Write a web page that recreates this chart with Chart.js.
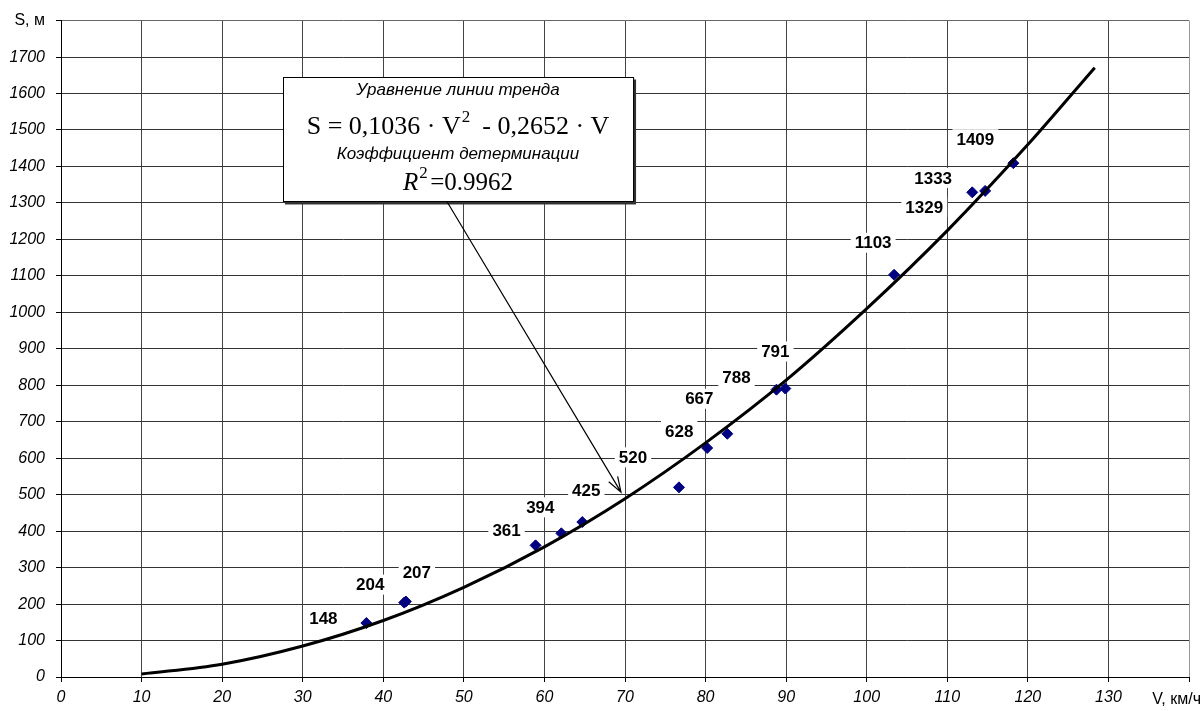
<!DOCTYPE html>
<html>
<head>
<meta charset="utf-8">
<script src="https://cdn.jsdelivr.net/npm/chart.js@4"></script>
<style>
  html, body { margin: 0; padding: 0; background: #fff; }
  #chart { display: block; }
</style>
</head>
<body>
<canvas id="chart" width="1203" height="711"></canvas>
<script>
// measured points (speed V, km/h -> stopping distance S, m)
const speedV = [37.9, 42.6, 42.8, 58.9, 62.1, 64.7, 76.7, 80.2, 82.7, 88.8, 89.9, 103.4, 113.1, 114.7, 118.2];
const distS = [148, 204, 207, 361, 394, 425, 520, 628, 667, 788, 791, 1103, 1329, 1333, 1409];

// trend line
const trendV = [10, 20, 30, 40, 50, 60, 70, 80, 90, 100, 110, 120, 128.3];
const trendS = [8, 35, 85, 155, 246, 357, 489, 642, 814, 1010, 1224, 1460, 1671];

const xTicks = [0, 10, 20, 30, 40, 50, 60, 70, 80, 90, 100, 110, 120, 130, 140];
const xTitle = 'V, км/ч';
const yTitle = 'S, м';

const boxLines = ['Уравнение линии тренда', 'Коэффициент детерминации'];
const eqText = 'S = 0,1036 · V';
const eqText2 = '  - 0,2652 · V';
const r2Text = '0.9962';

// label offsets (px) from each point, in the same order as distS
const labelOffsets = [[-43, -5], [-34, -18], [11, -29], [-29, -15], [-21, -26], [4, -32], [-46, -30],
  [-28, -17], [-28, -35], [-40, -12], [-10, -37], [-21, -32], [-48, 15], [-52, -13], [-38, -24]];

const SANS = "'Liberation Sans', Arial, sans-serif";
const SERIF = "'Liberation Serif', 'Times New Roman', serif";

const extras = {
  id: 'extras',
  afterDatasetsDraw(chart) {
    const ctx = chart.ctx;
    const xs = chart.scales.x, ys = chart.scales.y;
    ctx.save();

    // point value labels with white background
    ctx.font = 'bold 17px ' + SANS;
    ctx.textAlign = 'center';
    ctx.textBaseline = 'middle';
    distS.forEach((s, i) => {
      const px = xs.getPixelForValue(speedV[i]) + labelOffsets[i][0];
      const py = ys.getPixelForValue(s) + labelOffsets[i][1];
      const txt = String(s);
      const w = ctx.measureText(txt).width;
      ctx.fillStyle = '#fff';
      ctx.fillRect(px - w / 2 - 4, py - 10, w + 8, 20);
      ctx.fillStyle = '#000';
      ctx.fillText(txt, px, py + 1);
    });

    // annotation box
    const bx1 = xs.getPixelForValue(27.55), bx2 = xs.getPixelForValue(71.0);
    const by1 = ys.getPixelForValue(1644), by2 = ys.getPixelForValue(1304);
    ctx.fillStyle = '#333';
    ctx.fillRect(bx1 + 2, by1 + 2, bx2 - bx1 + 1, by2 - by1 + 1);
    ctx.fillStyle = '#fff';
    ctx.fillRect(bx1, by1, bx2 - bx1, by2 - by1);
    ctx.strokeStyle = '#000';
    ctx.lineWidth = 1;
    ctx.strokeRect(Math.round(bx1) + 0.5, Math.round(by1) + 0.5, bx2 - bx1, by2 - by1);

    const cx = (bx1 + bx2) / 2;
    ctx.fillStyle = '#000';
    ctx.textAlign = 'center';
    ctx.font = 'italic 17px ' + SANS;
    ctx.fillText(boxLines[0], cx, by1 + 13);
    ctx.fillText(boxLines[1], cx, by1 + 77);

    // equation line
    ctx.font = '26px ' + SERIF;
    ctx.textAlign = 'left';
    const supFont = '17px ' + SERIF;
    const w1 = ctx.measureText(eqText).width;
    const w3 = ctx.measureText(eqText2).width;
    ctx.font = supFont;
    const w2 = ctx.measureText('2').width;
    let x0 = cx - (w1 + w2 + w3) / 2;
    const ey = by1 + 50;
    ctx.font = '26px ' + SERIF;
    ctx.fillText(eqText, x0, ey);
    ctx.font = supFont;
    ctx.fillText('2', x0 + w1 + 1, ey - 10);
    ctx.font = '26px ' + SERIF;
    ctx.fillText(eqText2, x0 + w1 + w2, ey);

    // R^2 line
    const ry = by1 + 106;
    ctx.font = 'italic 25px ' + SERIF;
    const wr = ctx.measureText('R').width;
    ctx.font = '25px ' + SERIF;
    const wv = ctx.measureText('=' + r2Text).width;
    x0 = cx - (wr + 12 + wv) / 2;
    ctx.font = 'italic 25px ' + SERIF;
    ctx.fillText('R', x0, ry);
    ctx.font = supFont;
    ctx.fillText('2', x0 + wr + 1, ry - 10);
    ctx.font = '25px ' + SERIF;
    ctx.fillText('=' + r2Text, x0 + wr + 12, ry);

    // arrow from box to trend line
    const ax1 = xs.getPixelForValue(47.9), ay1 = by2;
    const ax2 = xs.getPixelForValue(69.5), ay2 = ys.getPixelForValue(507);
    ctx.strokeStyle = '#000';
    ctx.lineWidth = 1.2;
    ctx.beginPath();
    ctx.moveTo(ax1, ay1);
    ctx.lineTo(ax2, ay2);
    const ang = Math.atan2(ay2 - ay1, ax2 - ax1);
    const hl = 16, ha = 0.33;
    ctx.moveTo(ax2 - hl * Math.cos(ang - ha), ay2 - hl * Math.sin(ang - ha));
    ctx.lineTo(ax2, ay2);
    ctx.lineTo(ax2 - hl * Math.cos(ang + ha), ay2 - hl * Math.sin(ang + ha));
    ctx.stroke();

    // x axis title in place of the last tick label
    ctx.font = '16px ' + SANS;
    ctx.textAlign = 'right';
    ctx.textBaseline = 'middle';
    ctx.fillStyle = '#000';
    ctx.fillText(xTitle, 1201, ys.bottom + 23);
    ctx.restore();
  }
};

new Chart(document.getElementById('chart'), {
  type: 'scatter',
  data: {
    datasets: [
      {
        label: 'trend',
        data: trendV.map((v, i) => ({ x: v, y: trendS[i] })),
        showLine: true,
        borderColor: '#000',
        borderWidth: 3,
        pointRadius: 0,
        cubicInterpolationMode: 'monotone',
        order: 0
      },
      {
        label: 'S',
        data: speedV.map((v, i) => ({ x: v, y: distS[i] })),
        pointStyle: 'rectRot',
        pointRadius: 5.5,
        backgroundColor: '#000080',
        borderColor: '#000080',
        borderWidth: 1,
        order: 1
      }
    ]
  },
  options: {
    responsive: false,
    animation: false,
    layout: { padding: { top: 20, right: 14, left: 0, bottom: 0 } },
    plugins: { legend: { display: false }, tooltip: { enabled: false } },
    scales: {
      x: {
        type: 'linear',
        min: 0,
        max: 140,
        afterBuildTicks: s => { s.ticks = xTicks.map(v => ({ value: v })); },
        afterFit: s => { s.height = 34; },
        border: { color: '#000', width: 1 },
        grid: {
          color: c => (c.tick && c.tick.value === 140 ? '#999' : '#444'),
          tickLength: 5,
          tickColor: '#000'
        },
        ticks: {
          color: '#000',
          padding: 6,
          maxRotation: 0,
          font: { family: SANS, size: 16, style: 'italic' },
          callback: v => (v === 140 ? '' : String(v))
        }
      },
      y: {
        type: 'linear',
        min: 0,
        max: 1800,
        afterFit: s => { s.width = 61; },
        border: { color: '#000', width: 1 },
        grid: {
          color: c => (c.tick && c.tick.value === 1800 ? '#666' : '#333'),
          tickLength: 5,
          tickColor: '#000'
        },
        ticks: {
          stepSize: 100,
          color: '#000',
          padding: 11,
          font: c => (c.tick && c.tick.value === 1800
            ? { family: SANS, size: 16, style: 'normal' }
            : { family: SANS, size: 16, style: 'italic' }),
          callback: v => (v === 1800 ? yTitle : String(v))
        }
      }
    }
  },
  plugins: [extras]
});
</script>
</body>
</html>
